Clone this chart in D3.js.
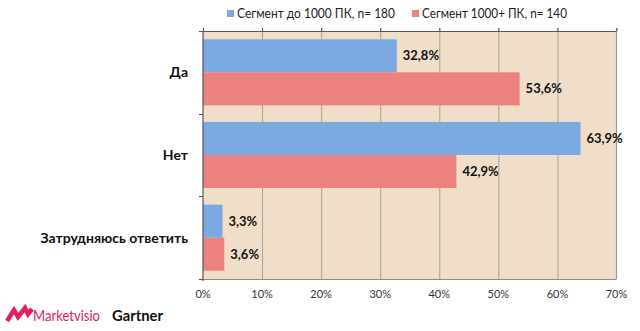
<!DOCTYPE html>
<html>
<head>
<meta charset="utf-8">
<script src="https://cdn.jsdelivr.net/npm/d3@7"></script>
<style>
  html, body { margin: 0; padding: 0; background: #fff; }
  svg { display: block; font-family: Lato, "Open Sans", sans-serif; }
</style>
</head>
<body>
<svg id="chart" width="640" height="331"></svg>
<script>
// Survey answers and shares per company segment (percent)
const categories = ["Да", "Нет", "Затрудняюсь ответить"];
const seriesNames = ["Сегмент до 1000 ПК, n= 180", "Сегмент 1000+ ПК, n= 140"];
const smallSegment = [32.8, 63.9, 3.3];
const largeSegment = [53.6, 42.9, 3.6];
const tickValues = [0, 10, 20, 30, 40, 50, 60, 70];

const colors = ["#7BAAE3", "#EC817D"];
const seriesValues = [smallSegment, largeSegment];

const svg = d3.select("#chart");
const plot = { left: 203, right: 616.5, top: 31, bottom: 279 };

const x = d3.scaleLinear().domain([0, 70]).range([plot.left, plot.right]);
const y = d3.scaleBand().domain(categories).range([plot.top, plot.bottom]).padding(0);
const ySub = d3.scaleBand().domain([0, 1]).range([0, y.bandwidth()])
  .paddingInner(0).paddingOuter(0.25);

// plot background
svg.append("rect")
  .attr("x", plot.left).attr("y", plot.top)
  .attr("width", plot.right - plot.left).attr("height", plot.bottom - plot.top)
  .attr("fill", "#F0DEC9");

// vertical gridlines with small outer ticks above the top edge
const grid = svg.append("g");
grid.selectAll("line")
  .data(tickValues.filter(d => d > 0 && d < 70))
  .join("line")
  .attr("x1", d => x(d) + 0.5).attr("x2", d => x(d) + 0.5)
  .attr("y1", plot.top - 3).attr("y2", plot.bottom)
  .attr("stroke", "#A8A29A").attr("stroke-width", 1);

// right and bottom plot borders
svg.append("line")
  .attr("x1", plot.right).attr("x2", plot.right)
  .attr("y1", plot.top - 3).attr("y2", plot.bottom)
  .attr("stroke", "#9C9890").attr("stroke-width", 1.2);
svg.append("line")
  .attr("x1", plot.left).attr("x2", plot.right)
  .attr("y1", plot.bottom + 0.5).attr("y2", plot.bottom + 0.5)
  .attr("stroke", "#8E8A84").attr("stroke-width", 1);

// bars
const groups = svg.append("g").selectAll("g")
  .data(categories)
  .join("g")
  .attr("transform", d => `translate(0,${y(d)})`);

groups.each(function (cat, ci) {
  const g = d3.select(this);
  seriesValues.forEach((vals, si) => {
    const v = vals[ci];
    g.append("rect")
      .attr("x", x(0))
      .attr("y", ySub(si))
      .attr("width", x(v) - x(0))
      .attr("height", ySub.bandwidth())
      .attr("fill", colors[si]);
    g.append("text")
      .attr("x", x(v) + 6)
      .attr("y", ySub(si) + ySub.bandwidth() / 2)
      .attr("dy", "0.35em")
      .attr("font-size", 13)
      .attr("font-weight", 700)
      .attr("fill", "#111")
      .text(d3.format(".1f")(v).replace(".", ",") + "%");
  });
});

// top axis line with upward ticks
const topAxis = svg.append("g")
  .attr("transform", `translate(0,${plot.top})`)
  .call(d3.axisTop(x).tickValues(tickValues).tickSize(3).tickFormat(""));
topAxis.select(".domain").attr("stroke", "#555").attr("d", `M${plot.left - 3},0.5H${plot.right}`);
topAxis.selectAll(".tick line").attr("stroke", "#555");

// left category axis with ticks at band boundaries
const leftAxis = svg.append("g");
leftAxis.append("line")
  .attr("x1", plot.left).attr("x2", plot.left)
  .attr("y1", plot.top).attr("y2", plot.bottom + 2)
  .attr("stroke", "#555").attr("stroke-width", 1.2);
leftAxis.selectAll("line.tk")
  .data([plot.top, ...categories.map(c => y(c) + y.bandwidth())])
  .join("line").attr("class", "tk")
  .attr("x1", plot.left - 4).attr("x2", plot.left)
  .attr("y1", d => Math.round(d) + 0.5).attr("y2", d => Math.round(d) + 0.5)
  .attr("stroke", "#555");

// category labels
svg.append("g").selectAll("text")
  .data(categories)
  .join("text")
  .attr("x", 188)
  .attr("y", d => y(d) + y.bandwidth() / 2)
  .attr("dy", "0.35em")
  .attr("text-anchor", "end")
  .attr("font-size", 14)
  .attr("font-weight", 700)
  .attr("fill", "#111")
  .text(d => d);

// percentage tick labels below the plot
svg.append("g").selectAll("text")
  .data(tickValues)
  .join("text")
  .attr("x", d => x(d))
  .attr("y", 294)
  .attr("dy", "0.35em")
  .attr("text-anchor", "middle")
  .attr("font-size", 11)
  .attr("fill", "#333")
  .text(d => d + "%");

// legend
const legendItems = [
  { name: seriesNames[0], color: colors[0], x: 227, w: 158 },
  { name: seriesNames[1], color: colors[1], x: 412, w: 145 }
];
const legend = svg.append("g").selectAll("g")
  .data(legendItems)
  .join("g")
  .attr("transform", d => `translate(${d.x},10)`);
legend.append("rect")
  .attr("width", 7).attr("height", 7)
  .attr("fill", d => d.color);
legend.append("text")
  .attr("x", 10).attr("y", 4)
  .attr("dy", "0.35em")
  .attr("font-size", 12.5)
  .attr("textLength", d => d.w)
  .attr("lengthAdjust", "spacingAndGlyphs")
  .attr("fill", "#222")
  .text(d => d.name);

// footer logos
const logo = svg.append("g");
logo.append("path")
  .attr("d", "M7,321 L14,310 L18,317 L25,308 L28,314 L32,309")
  .attr("fill", "none")
  .attr("stroke", "#E2205A")
  .attr("stroke-width", 4.5)
  .attr("stroke-linejoin", "miter");
logo.append("text")
  .attr("x", 33).attr("y", 320.5)
  .attr("font-size", 16)
  .attr("textLength", 67)
  .attr("lengthAdjust", "spacingAndGlyphs")
  .attr("fill", "#E2205A")
  .text("Marketvisio");
logo.append("text")
  .attr("x", 112).attr("y", 320.5)
  .attr("font-size", 16)
  .attr("font-weight", 700)
  .attr("textLength", 51)
  .attr("lengthAdjust", "spacingAndGlyphs")
  .attr("fill", "#111")
  .text("Gartner");
</script>
</body>
</html>
